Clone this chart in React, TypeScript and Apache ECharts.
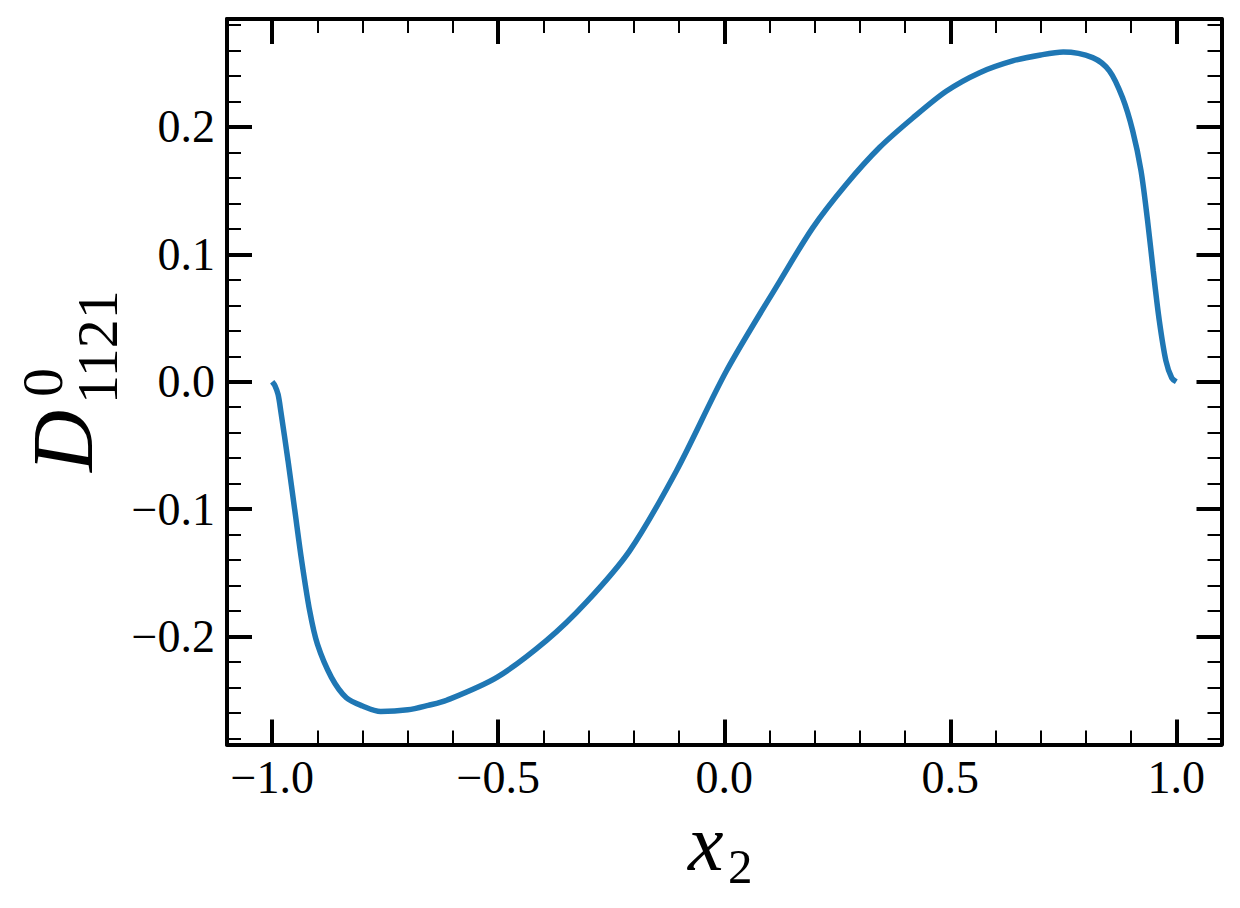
import React, { useEffect, useRef } from "react";
import * as echarts from "echarts";

// Curve samples
const xValues: number[] = [
  -1.0, -0.994, -0.987, -0.981, -0.965, -0.95, -0.935, -0.917, -0.9, -0.869,
  -0.836, -0.8, -0.76, -0.7, -0.655, -0.614, -0.503, -0.393, -0.305, -0.209,
  -0.1056, 0.005, 0.123, 0.196, 0.27, 0.344,
  0.417, 0.491, 0.565, 0.638, 0.7, 0.75, 0.815, 0.852, 0.881, 0.9035,
  0.922, 0.9366, 0.949, 0.9624, 0.977, 0.99, 1.0,
];
const yValues: number[] = [
  0.0, -0.003, -0.01, -0.023, -0.062, -0.101, -0.14, -0.18, -0.206, -0.232,
  -0.248, -0.2545, -0.2588, -0.2575, -0.254, -0.25, -0.232, -0.203, -0.173, -0.1325,
  -0.0698, 0.0086, 0.079, 0.121, 0.155, 0.184,
  0.207, 0.228, 0.2426, 0.2518, 0.2565, 0.2588, 0.2544, 0.244, 0.223, 0.197,
  0.1655, 0.126, 0.087, 0.048, 0.0165, 0.003, 0.0,
];

const xLimits: number[] = [-1.1, 1.1];
const yLimits: number[] = [-0.2847, 0.2847];
const xMajorStep = 0.5;
const xMinorStep = 0.1;
const yMajorStep = 0.1;
const yMinorStep = 0.02;

const SERIF = "Liberation Serif";

function fmtTick(v: number, step: number): string {
  const k = Math.round(v / step);
  if (Math.abs(v - k * step) > 1e-6) return "";
  const val = k * step;
  if (Math.abs(val) < 1e-9) return "0.0";
  return val < 0 ? "\u2212" + Math.abs(val).toFixed(1) : val.toFixed(1);
}

export default function App() {
  const ref = useRef<HTMLDivElement>(null);

  useEffect(() => {
    if (!ref.current) return;
    const chart = echarts.init(ref.current, null, { renderer: "svg" });

    const lineStyle = { color: "#000", width: 4 };
    const majorX = (pos: string, labels: boolean) => ({
      type: "value",
      position: pos,
      min: xLimits[0],
      max: xLimits[1],
      splitNumber: 5,
      minInterval: xMajorStep,
      maxInterval: xMajorStep,
      axisLine: { show: true, onZero: false, lineStyle },
      axisTick: { show: true, inside: true, length: 25, lineStyle: { color: "#000", width: 4 } },
      axisLabel: {
        show: labels,
        margin: 10,
        fontFamily: SERIF,
        fontSize: 46,
        color: "#000",
        formatter: (v: number) => fmtTick(v, xMajorStep),
      },
      splitLine: { show: false },
    });
    const minorX = (pos: string) => ({
      type: "value",
      position: pos,
      min: xLimits[0],
      max: xLimits[1],
      interval: xMinorStep,
      axisLine: { show: false, onZero: false },
      axisTick: { show: true, inside: true, length: 14, lineStyle: { color: "#000", width: 2 } },
      axisLabel: { show: false },
      splitLine: { show: false },
    });
    const majorY = (pos: string, labels: boolean) => ({
      type: "value",
      position: pos,
      min: yLimits[0],
      max: yLimits[1],
      splitNumber: 6,
      minInterval: yMajorStep,
      maxInterval: yMajorStep,
      axisLine: { show: true, onZero: false, lineStyle },
      axisTick: { show: true, inside: true, length: 25, lineStyle: { color: "#000", width: 4 } },
      axisLabel: {
        show: labels,
        margin: 12,
        fontFamily: SERIF,
        fontSize: 46,
        color: "#000",
        formatter: (v: number) => fmtTick(v, yMajorStep),
      },
      splitLine: { show: false },
    });
    const minorY = (pos: string) => ({
      type: "value",
      position: pos,
      min: yLimits[0],
      max: yLimits[1],
      splitNumber: 20,
      minInterval: yMinorStep,
      maxInterval: yMinorStep,
      axisLine: { show: false, onZero: false },
      axisTick: { show: true, inside: true, length: 14, lineStyle: { color: "#000", width: 2 } },
      axisLabel: { show: false },
      splitLine: { show: false },
    });

    const data = xValues.map((x, i) => [x, yValues[i]]);

    const txt = (
      text: string,
      x: number,
      y: number,
      size: number,
      italic: boolean,
      rot: number
    ) => ({
      type: "text",
      x,
      y,
      rotation: rot,
      style: {
        text,
        fontFamily: SERIF,
        fontStyle: italic ? "italic" : "normal",
        fontSize: size,
        fill: "#000",
        align: "left",
        verticalAlign: "middle",
      },
    });

    chart.setOption({
      animation: false,
      backgroundColor: "#fff",
      grid: { left: 227, right: 18.5, top: 19, bottom: 163.5, show: false },
      xAxis: [majorX("bottom", true), majorX("top", false), minorX("bottom"), minorX("top")],
      yAxis: [majorY("left", true), majorY("right", false), minorY("left"), minorY("right")],
      series: [
        {
          type: "line",
          xAxisIndex: 0,
          yAxisIndex: 0,
          data,
          showSymbol: false,
          smooth: 0.3,
          lineStyle: { color: "#1f77b4", width: 5.5 },
          z: 1,
        },
      ],
      graphic: [
        txt("x", 688, 843, 80, true, 0),
        txt("2", 728, 866, 49, false, 0),
        txt("D", 63, 472, 86, true, Math.PI / 2),
        txt("0", 42, 397, 58, false, Math.PI / 2),
        txt("1121", 97, 404, 58, false, Math.PI / 2),
      ],
    });

    return () => chart.dispose();
  }, []);

  return (
    <div
      ref={ref}
      style={{ position: "fixed", left: 0, top: 0, width: 1240, height: 908, background: "#fff" }}
    />
  );
}
